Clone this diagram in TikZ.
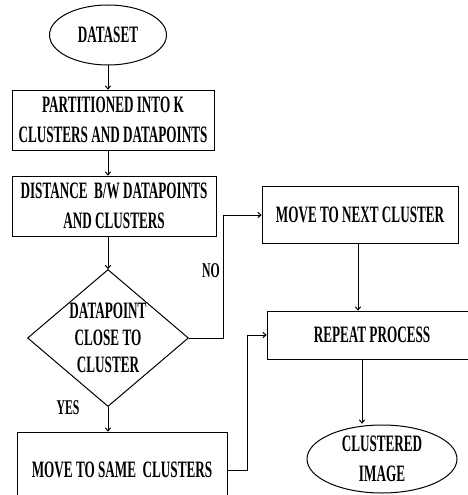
\documentclass[tikz,border=0pt]{standalone}
\usepackage{fontspec}
\setmainfont{Liberation Serif}[FakeStretch=0.56]
\usetikzlibrary{shapes.geometric,arrows.meta}
\begin{document}
\begin{tikzpicture}[x=1pt,y=-1pt,
  every node/.style={font=\bfseries\fontsize{23.5}{30}\selectfont, align=center, inner sep=0pt},
  box/.style={draw, line width=1pt, rectangle},
  oval/.style={draw, line width=1pt, ellipse},
  decide/.style={draw, line width=1pt, diamond, aspect=1.175, font=\bfseries\fontsize{23.5}{27}\selectfont},
  lbl/.style={font=\bfseries\fontsize{21}{24}\selectfont},
  conn/.style={line width=1pt, -{To[length=4pt,width=6pt]}}]
\useasboundingbox (0,0) rectangle (468,495);
\node[oval, minimum width=117pt, minimum height=60pt] (dataset) at (108,35) {DATASET};
\node[box, minimum width=202pt, minimum height=60pt] (part) at (113,120) {PARTITIONED INTO K\\CLUSTERS AND DATAPOINTS};
\node[box, minimum width=204pt, minimum height=60pt] (dist) at (114,206) {DISTANCE\ \ B/W DATAPOINTS\\AND CLUSTERS};
\node[decide, minimum width=161pt, minimum height=137pt] (dec) at (108,338) {DATAPOINT\\CLOSE TO\\CLUSTER};
\node[box, minimum width=196pt, minimum height=57pt] (next) at (360,215) {MOVE TO NEXT CLUSTER};
\node[box, minimum width=210pt, minimum height=48pt] (rep) at (372,335) {REPEAT PROCESS};
\node[box, minimum width=210pt, minimum height=76pt] (same) at (122,470) {MOVE TO SAME\ \ CLUSTERS};
\node[oval, minimum width=150pt, minimum height=68pt] (clus) at (382,459) {CLUSTERED\\IMAGE};
\node[lbl] (no) at (211,271) {NO};
\node[lbl] (yes) at (68,408) {YES};
\coordinate (nobend) at (223,338);
\coordinate (yesbend) at (247,470);
\draw[conn] (dataset.south) -- (dataset.south |- part.north);
\draw[conn] (dataset.south |- part.south) -- (dataset.south |- dist.north);
\draw[conn] (dataset.south |- dist.south) -- (dec.north);
\draw[conn] (dec.south) -- (dec.south |- same.north);
\draw[conn] (dec.east) -- (nobend) |- (next.west);
\draw[conn] ([xshift=-2pt]next.south) -- ([xshift=-2pt]next.south |- rep.north);
\draw[conn] (same.east) -- (yesbend) |- (rep.west);
\draw[conn] ([xshift=-10pt]rep.south) -- ([xshift=-10pt,yshift=1pt]rep.south |- clus.north);
\end{tikzpicture}
\end{document}
